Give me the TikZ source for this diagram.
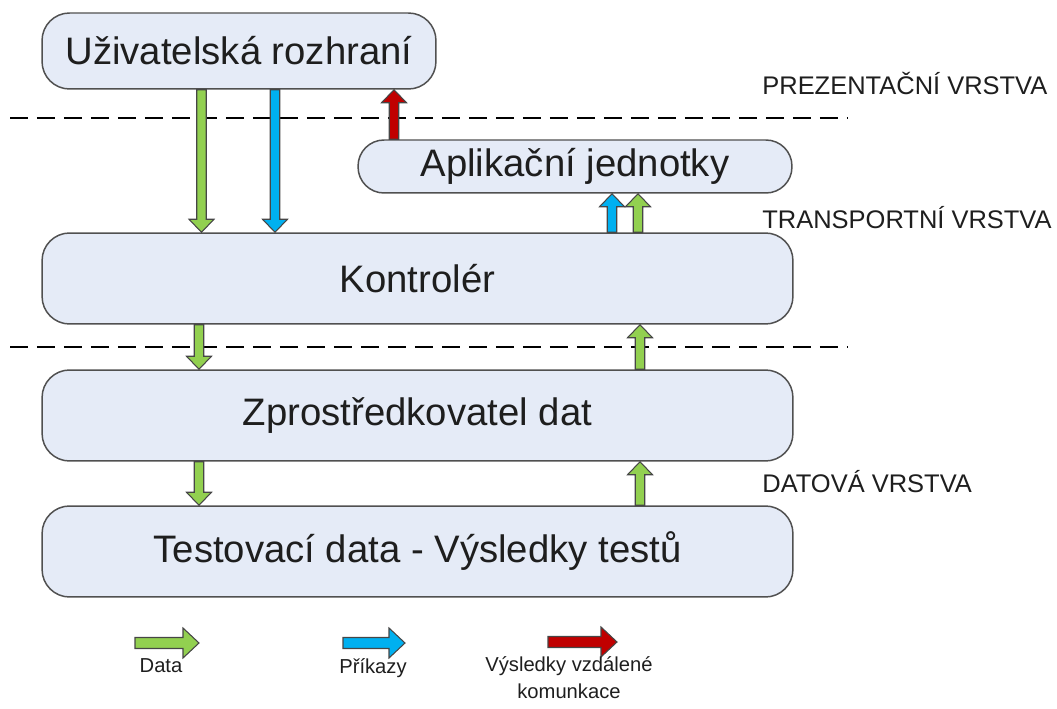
\documentclass[tikz,border=0pt]{standalone}
\usepackage{fontspec}
\setmainfont{Liberation Sans}
\usetikzlibrary{calc}
\definecolor{boxfill}{RGB}{229,235,247}
\definecolor{boxline}{RGB}{80,80,80}
\definecolor{arrowline}{RGB}{70,70,70}
\definecolor{datagreen}{RGB}{146,208,80}
\definecolor{cmdblue}{RGB}{0,176,240}
\definecolor{resred}{RGB}{192,0,0}
\definecolor{labeltext}{RGB}{30,30,30}
\tikzset{x = 0.02cm, y = -0.02cm,
         layerbox/.style = {draw = boxline, fill = boxfill, line width = 0.85pt,
                            rounded corners = 0.55cm, inner sep = 0pt,
                            text = labeltext, font = \fontsize{21.8}{26}\selectfont},
         layername/.style = {anchor = base west, inner sep = 0pt, text = labeltext,
                             font = \fontsize{14.5}{17}\selectfont},
         legendtext/.style = {inner sep = 0pt, text = labeltext, align = center,
                              font = \fontsize{11.5}{15.4}\selectfont},
         layerline/.style = {line width = 1.1pt, dash pattern = on 0.36cm off 0.18cm}}
% block arrow: colour, from, to, half shaft, half head, head length
\newcommand{\barrow}[6]{%
  \path (#2) coordinate (ba) (#3) coordinate (bb);
  \path ($(bb)!#6!(ba)$) coordinate (bh);
  \filldraw[fill = #1, draw = arrowline, line width = 0.6pt]
    ($(ba)!#4!90:(bb)$) -- ($(bh)!#4!90:(bb)$) -- ($(bh)!#5!90:(bb)$) -- (bb)
    -- ($(bh)!#5!-90:(bb)$) -- ($(bh)!#4!-90:(bb)$) -- ($(ba)!#4!-90:(bb)$) -- cycle;}
\newcommand{\flowarrow}[3]{\barrow{#1}{#2}{#3}{0.095cm}{0.25cm}{0.26cm}}
\newcommand{\legendarrow}[3]{\barrow{#1}{#2}{#3}{0.11cm}{0.3cm}{0.32cm}}

\begin{document}
\begin{tikzpicture}
  \useasboundingbox (0,0) rectangle (1057,709);

  % layers
  \node[layerbox, minimum width = 7.88cm, minimum height = 1.52cm]
       (ui)     at (239,51)    {Uživatelská rozhraní};
  \node[layerbox, minimum width = 8.68cm, minimum height = 1.06cm, rounded corners = 0.52cm]
       (app)    at (575,166.5) {Aplikační jednotky};
  \node[layerbox, minimum width = 15.02cm, minimum height = 1.82cm]
       (ctrl)   at (417.5,278.5) {Kontrolér};
  \node[layerbox, minimum width = 15.02cm, minimum height = 1.82cm]
       (broker) at (417.5,415.5) {Zprostředkovatel dat};
  \node[layerbox, minimum width = 15.02cm, minimum height = 1.82cm]
       (store)  at (417.5,551.5) {Testovací data - Výsledky testů};

  % layer borders
  \coordinate (top west)  at (10,118);
  \coordinate (top east)  at (848,118);
  \coordinate (mid west)  at (10,347);
  \coordinate (mid east)  at (848,347);
  \draw[layerline] (top west) -- (top east);
  \draw[layerline] (mid west) -- (mid east);

  \node[layername] (pres)  at (762,95)  {PREZENTAČNÍ VRSTVA};
  \node[layername] (trans) at (762,229) {TRANSPORTNÍ VRSTVA};
  \node[layername] (datl)  at (762,492) {DATOVÁ VRSTVA};

  % flows
  \coordinate (col data)  at (201.5,0);
  \coordinate (col cmd)   at (275,0);
  \coordinate (col res)   at (394,0);
  \coordinate (col cmdup) at (612,0);
  \coordinate (col upd)   at (638,0);
  \coordinate (col down)  at (199,0);
  \coordinate (col up)    at (640,0);

  \flowarrow{datagreen}{ui.south -| col data}{ctrl.north -| col data}
  \flowarrow{cmdblue}{ui.south -| col cmd}{ctrl.north -| col cmd}
  \flowarrow{resred}{app.north -| col res}{ui.south -| col res}
  \flowarrow{cmdblue}{ctrl.north -| col cmdup}{app.south -| col cmdup}
  \flowarrow{datagreen}{ctrl.north -| col upd}{app.south -| col upd}
  \flowarrow{datagreen}{ctrl.south -| col down}{broker.north -| col down}
  \flowarrow{datagreen}{broker.north -| col up}{ctrl.south -| col up}
  \flowarrow{datagreen}{broker.south -| col down}{store.north -| col down}
  \flowarrow{datagreen}{store.north -| col up}{broker.south -| col up}

  % legend
  \coordinate (lg data a) at (135,643);
  \coordinate (lg data b) at (199,643);
  \coordinate (lg cmd a)  at (343,643);
  \coordinate (lg cmd b)  at (405,643);
  \coordinate (lg res a)  at (548,642);
  \coordinate (lg res b)  at (617,642);
  \legendarrow{datagreen}{lg data a}{lg data b}
  \legendarrow{cmdblue}{lg cmd a}{lg cmd b}
  \legendarrow{resred}{lg res a}{lg res b}

  \node[legendtext, anchor = base] (lg data) at (161,672) {Data};
  \node[legendtext, anchor = base] (lg cmd)  at (373,673) {Příkazy};
  \node[legendtext, anchor = north] (lg res) at (569,656) {Výsledky vzdálené\\komunkace};
\end{tikzpicture}
\end{document}
